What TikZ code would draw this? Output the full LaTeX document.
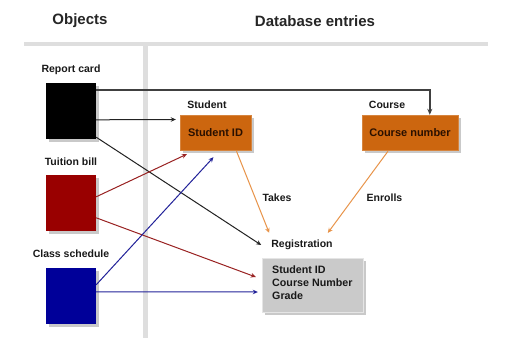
\documentclass[tikz,border=0pt]{standalone}
\usepackage{fontspec}
\setmainfont{Liberation Sans}
\usetikzlibrary{arrows.meta,shadows,calc}
\definecolor{barg}{HTML}{DEDEDE}
\definecolor{orbox}{HTML}{CC660F}
\definecolor{orline}{HTML}{E8944A}
\definecolor{orbtxt}{HTML}{2A1000}
\definecolor{redsq}{HTML}{990000}
\definecolor{redln}{HTML}{992222}
\definecolor{bluesq}{HTML}{000099}
\definecolor{blueln}{HTML}{222299}
\definecolor{regbox}{HTML}{CACACA}
\definecolor{blkln}{HTML}{222222}
\tikzset{
  title/.style={font=\fontsize{15}{18}\selectfont\bfseries, text=black!85},
  lbl/.style={font=\fontsize{10.5}{12}\selectfont\bfseries, text=black!90, inner sep=0pt},
  sq/.style={minimum width=50pt, minimum height=56pt, inner sep=0pt,
    drop shadow={shadow xshift=3pt, shadow yshift=-3pt, fill=black!35, opacity=.6}},
  obox/.style={fill=orbox, draw=orbox!80!white, minimum height=35pt, inner sep=0pt,
    font=\fontsize{11}{13}\selectfont\bfseries, text=orbtxt,
    drop shadow={shadow xshift=3pt, shadow yshift=-3pt, fill=black!35, opacity=.6}},
  gbox/.style={fill=regbox, draw=black!10, minimum width=101pt, minimum height=54pt,
    drop shadow={shadow xshift=3pt, shadow yshift=-3pt, fill=black!35, opacity=.6}},
  conn/.style={line width=1pt, -{Stealth[length=5pt,width=4.5pt]}},
}
\begin{document}
\begin{tikzpicture}[x=1pt,y=-1pt]
\useasboundingbox[fill=white] (0,0) rectangle (505,342);
% bars
\fill[barg] (24,42) rectangle (488,46.5);
\fill[barg] (143,46.5) rectangle (147.5,338);
% titles
\node[title] (tobj) at (80,21) {Objects};
\node[title] (tdb) at (315,21) {Database entries};
% objects
\node[lbl] (lrc) at (71,69.5) {Report card};
\node[sq, fill=black] (rc) at (71,111) {};
\node[lbl] (ltb) at (71,161.5) {Tuition bill};
\node[sq, fill=redsq] (tb) at (71,203) {};
\node[lbl] (lcs) at (71,253.5) {Class schedule};
\node[sq, fill=bluesq] (cs) at (71,296) {};
% database
\node[lbl] (lst) at (207,104.5) {Student};
\node[obox, minimum width=71pt] (sid) at (215.5,132.5) {Student ID};
\node[lbl] (lco) at (387,104.5) {Course};
\node[obox, minimum width=96pt] (cn) at (410,132.5) {Course number};
\node[lbl] (lreg) at (302,245) {Registration};
\node[gbox] (reg) at (312.5,285) {};
\node[anchor=north west, inner sep=0pt, align=left, font=\fontsize{10.7}{13}\selectfont\bfseries, text=black!90] (regtxt) at (272,266) {Student ID\\Course Number\\Grade};
\node[lbl] (ltk) at (277,198) {Takes};
\node[lbl] (len) at (384.5,198) {Enrolls};
% connectors
\draw[line width=1.6pt, draw=black!75, -{Stealth[length=6pt,width=5pt]}] ($(rc.north east)+(0,7)$) -| ($(cn.north west)+(68,0)$);
\draw[conn, blkln] ($(rc.north east)+(0,37)$) -- ($(sid.west)+(-4,-13)$);
\draw[conn, blkln] ($(rc.south east)+(0,-2)$) -- ($(lreg.west)+(-10,0)$);
\draw[conn, redln] ($(tb.north east)+(0,22)$) -- ($(sid.south west)+(7,4)$);
\draw[conn, redln] ($(tb.north east)+(0,43)$) -- ($(reg.west)+(-6,-8)$);
\draw[conn, blueln] ($(cs.north east)+(0,17)$) -- ($(sid.south)+(-2,7)$);
\draw[conn, blueln] ($(cs.north east)+(0,24)$) -- ($(reg.west)+(-4,7)$);
\draw[conn, orline] ($(sid.south)+(21,1)$) -- ($(lreg.north west)+(-2,-7)$);
\draw[conn, orline] ($(cn.south)+(-22,1)$) -- ($(lreg.north east)+(-5,-7)$);
\end{tikzpicture}
\end{document}
